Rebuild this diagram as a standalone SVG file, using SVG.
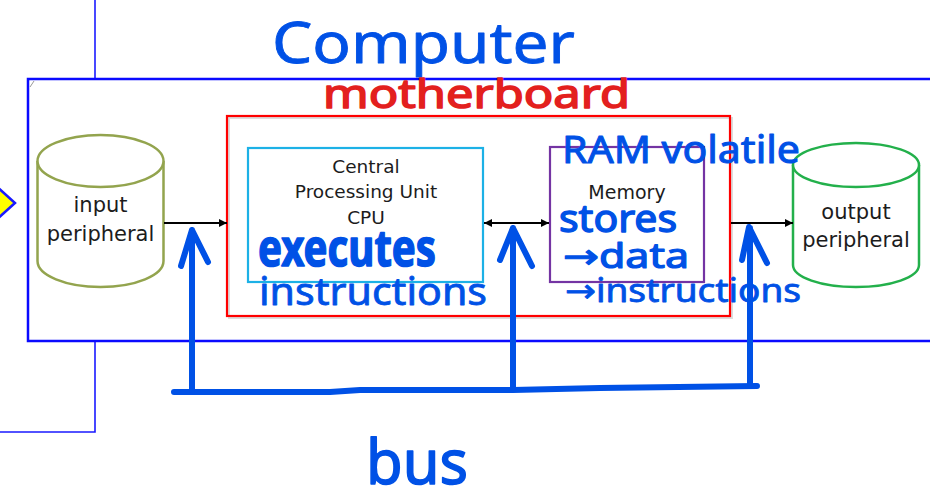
<svg xmlns="http://www.w3.org/2000/svg" width="930" height="490" viewBox="0 0 930 490">
  <defs>
    <marker id="arrow" viewBox="0 0 10 10" refX="10" refY="5" markerWidth="8" markerHeight="8" markerUnits="userSpaceOnUse" orient="auto-start-reverse">
      <path d="M0,0 L10,5 L0,10 z" fill="#000"/>
    </marker>
  </defs>
  <style>
    .frame { fill: none; stroke: #0a0aff; stroke-width: 2.5; }
    .thin { fill: none; stroke: #1a1aff; stroke-width: 1.6; }
    .label { font-family: "DejaVu Sans", "Liberation Sans", sans-serif; fill: #1c1c1c; text-anchor: middle; }
    .wire { stroke: #000; stroke-width: 2; fill: none; }
    .ink { fill: #0051e6; stroke: #0051e6; stroke-linejoin: round; font-family: "Noto Sans", "DejaVu Sans", sans-serif; }
    .inkred { fill: #e3201e; stroke: #e3201e; stroke-linejoin: round; font-family: "Noto Sans", "DejaVu Sans", sans-serif; }
    .pen { fill: none; stroke: #0051e6; stroke-width: 6; stroke-linecap: round; stroke-linejoin: round; }
  </style>
  <rect width="930" height="490" fill="#fff"/>

  <!-- computer enclosure and its outside links -->
  <g id="computer">
    <line class="thin" x1="95" y1="0" x2="95" y2="79"/>
    <polyline class="thin" points="95,341 95,432 0,432"/>
    <rect class="frame" x="28" y="79" width="920" height="262"/>
    <line x1="30" y1="87" x2="34" y2="81" stroke="#999" stroke-width="1"/>
    <polygon points="-5,185 15,203 -5,221 -25,203" fill="#ffff00" stroke="#1a1aff" stroke-width="2.5"/>
  </g>

  <!-- motherboard -->
  <g id="motherboard">
    <rect x="229" y="118" width="503" height="200" fill="none" stroke="#ddd" stroke-width="2"/>
    <rect x="227" y="116" width="503" height="200" fill="none" stroke="#ff0000" stroke-width="2.2"/>
  </g>

  <!-- input peripheral -->
  <g id="input">
    <path d="M37.5,161 L37.5,261 A63,26 0 0 0 163.5,261 L163.5,161" fill="#fff" stroke="#93a44e" stroke-width="2.5"/>
    <ellipse cx="100.5" cy="161" rx="63" ry="26" fill="#fff" stroke="#93a44e" stroke-width="2.5"/>
    <text class="label" x="100.5" y="212" font-size="21">input</text>
    <text class="label" x="100.5" y="241" font-size="21">peripheral</text>
  </g>

  <!-- CPU -->
  <g id="cpu">
    <rect x="248" y="148" width="235" height="134" fill="none" stroke="#1cb1e6" stroke-width="2.2"/>
    <text class="label" x="366" y="173" font-size="18.5">Central</text>
    <text class="label" x="366" y="198" font-size="18.5">Processing Unit</text>
    <text class="label" x="366" y="224" font-size="18.5">CPU</text>
  </g>

  <!-- memory -->
  <g id="memory">
    <rect x="550" y="147" width="154" height="135" fill="none" stroke="#7434a3" stroke-width="2.2"/>
    <text class="label" x="627" y="199" font-size="19">Memory</text>
  </g>

  <!-- output peripheral -->
  <g id="output">
    <path d="M793,165 L793,265 A63,22 0 0 0 919,265 L919,165" fill="#fff" stroke="#23b04b" stroke-width="2.5"/>
    <ellipse cx="856" cy="165" rx="63" ry="22" fill="#fff" stroke="#23b04b" stroke-width="2.5"/>
    <text class="label" x="856" y="219" font-size="21">output</text>
    <text class="label" x="856" y="247" font-size="21">peripheral</text>
  </g>

  <!-- connectors -->
  <g id="connectors">
    <line class="wire" x1="164" y1="223" x2="227" y2="223" marker-end="url(#arrow)"/>
    <line class="wire" x1="484" y1="223" x2="549" y2="223" marker-start="url(#arrow)" marker-end="url(#arrow)"/>
    <line class="wire" x1="731" y1="223" x2="793" y2="223" marker-end="url(#arrow)"/>
    <!-- bus -->
    <path class="pen" d="M174,392 L330,392 L360,390 L513,390 L600,388 L757,386"/>
    <path class="pen" d="M192,390 L192,230 M181,266 L192,230 L208,262"/>
    <path class="pen" d="M513,388 L513,228 M500,260 L513,228 L532,266"/>
    <path class="pen" d="M750,386 L750,228 M742,260 L749,227 L767,263"/>
  </g>

  <!-- handwritten notes -->
  <g id="notes">
    <text class="ink" x="272" y="63" font-size="56" stroke-width="0.8" textLength="303" lengthAdjust="spacingAndGlyphs">Computer</text>
    <text class="inkred" x="323" y="108" font-size="40" stroke-width="1.5" textLength="307" lengthAdjust="spacingAndGlyphs">motherboard</text>
    <text class="ink" x="562" y="163" font-size="38" stroke-width="1" textLength="238" lengthAdjust="spacingAndGlyphs">RAM volatile</text>
    <text class="ink" x="258" y="266" font-size="50" font-weight="bold" stroke-width="1.5" textLength="178" lengthAdjust="spacingAndGlyphs">executes</text>
    <text class="ink" x="259" y="305" font-size="38" stroke-width="0.8" textLength="228" lengthAdjust="spacingAndGlyphs">instructions</text>
    <text class="ink" x="559" y="232" font-size="38" stroke-width="1.4" textLength="118" lengthAdjust="spacingAndGlyphs">stores</text>
    <text class="ink" x="563" y="268" font-size="34" stroke-width="1.2" textLength="126" lengthAdjust="spacingAndGlyphs">→data</text>
    <text class="ink" x="565" y="302" font-size="32" stroke-width="0.8" textLength="236" lengthAdjust="spacingAndGlyphs">→instructions</text>
    <text class="ink" x="366" y="484" font-size="62" stroke-width="1.5" textLength="102" lengthAdjust="spacingAndGlyphs">bus</text>
  </g>
</svg>
